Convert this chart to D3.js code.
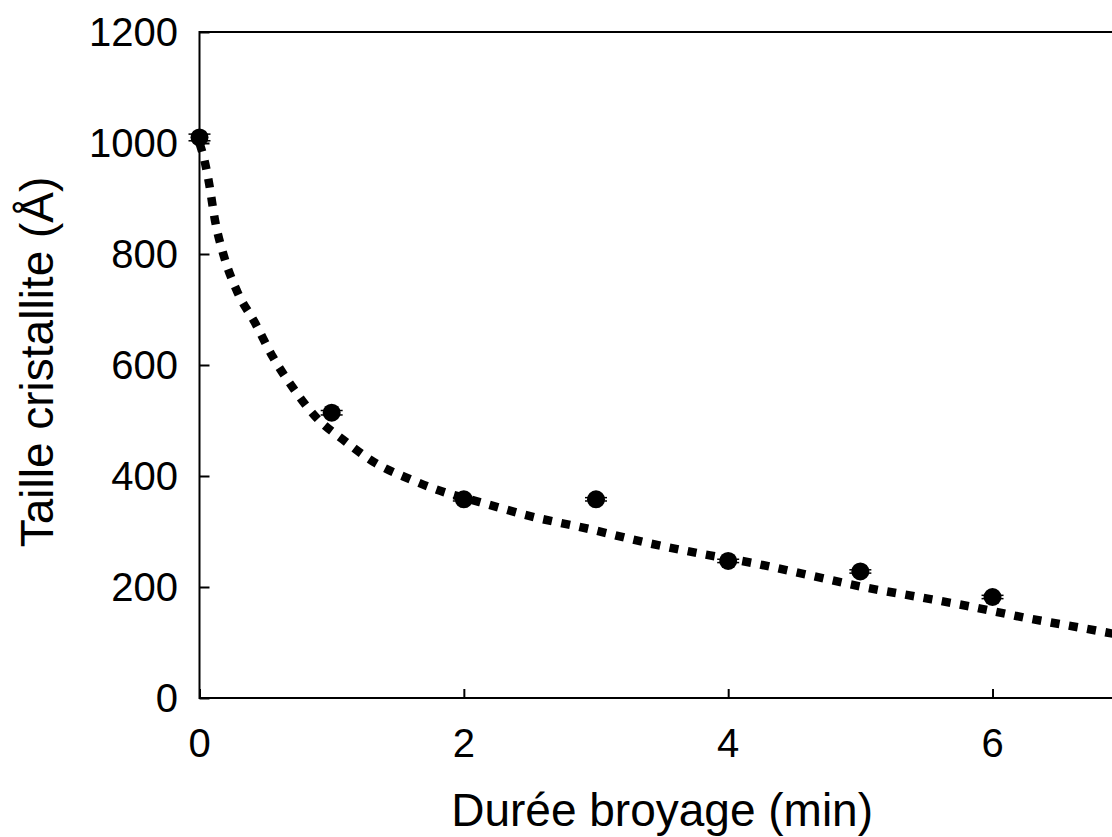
<!DOCTYPE html>
<html><head><meta charset="utf-8">
<script src="https://cdn.jsdelivr.net/npm/d3@7"></script>
<style>html,body{margin:0;padding:0;background:#fff;overflow:hidden}svg{display:block}text{font-family:"Liberation Sans",Arial,sans-serif;fill:#000}</style>
</head><body>
<script>
// Measured data points
const durations = [0, 1, 2, 3, 4, 5, 6];
const sizes = [1010, 514, 358, 358, 247, 228, 182];
const errors = [6, 4, 3, 3, 3, 3, 3];
// Dotted trend line
const fitX = [0, 0.042, 0.072, 0.117, 0.185, 0.284, 0.42, 0.556, 0.707, 0.881, 1.10, 1.32, 1.585, 1.85, 2.12, 2.53, 2.94, 3.36, 3.77, 4.19, 4.60, 5.02, 5.44, 5.85, 6.26, 6.68, 7.0];
const fitY = [1000, 964, 928, 861, 796, 733, 676, 614, 559, 506, 463, 425, 395, 371, 353, 326, 305, 281, 261, 243, 222, 200, 182, 164, 144, 126, 112];
const xTicks = [0, 2, 4, 6];
const yTicks = [0, 200, 400, 600, 800, 1000, 1200];
const xTitle = "Durée broyage (min)";
const yTitle = "Taille cristallite (Å)";

const W = 1112, H = 837;
const svg = d3.select("body").append("svg").attr("width", W).attr("height", H);
const x = d3.scaleLinear().domain([0, 7]).range([199.5, 1124.7]);
const y = d3.scaleLinear().domain([0, 1200]).range([698, 32]);

// frame
svg.append("rect").attr("x", x(0)).attr("y", y(1200))
  .attr("width", x(7) - x(0)).attr("height", y(0) - y(1200))
  .attr("fill", "none").attr("stroke", "#000").attr("stroke-width", 2);

// y axis (ticks inside)
const yAxis = svg.append("g").attr("transform", `translate(${x(0)},0)`)
  .call(d3.axisRight(y).tickValues(yTicks).tickSize(10).tickFormat(""));
yAxis.select(".domain").remove();
yAxis.selectAll("line").attr("stroke", "#000").attr("stroke-width", 2);
svg.append("g").selectAll("text").data(yTicks).join("text")
  .attr("x", 178).attr("y", d => y(d)).attr("dy", "0.36em")
  .attr("text-anchor", "end").style("font-size", "40px").text(d => d);

// x axis (ticks inside)
const xAxis = svg.append("g").attr("transform", `translate(0,${y(0)})`)
  .call(d3.axisTop(x).tickValues(xTicks).tickSize(9).tickFormat(""));
xAxis.select(".domain").remove();
xAxis.selectAll("line").attr("stroke", "#000").attr("stroke-width", 2);
svg.append("g").selectAll("text").data(xTicks).join("text")
  .attr("x", d => x(d)).attr("y", 757)
  .attr("text-anchor", "middle").style("font-size", "40px").text(d => d);

// titles
svg.append("text").attr("x", (x(0) + x(7)) / 2).attr("y", 826)
  .attr("text-anchor", "middle").style("font-size", "46px").text(xTitle);
svg.append("text").attr("transform", `translate(53,362) rotate(-90)`)
  .attr("text-anchor", "middle").style("font-size", "46px").text(yTitle);

// trend line
const line = d3.line().x((d, i) => x(fitX[i])).y(d => y(d)).curve(d3.curveMonotoneX);
svg.append("path").datum(fitY).attr("d", line)
  .attr("fill", "none").attr("stroke", "#000").attr("stroke-width", 8.5)
  .attr("stroke-dasharray", "9,9.5");

// error bars
const eb = svg.append("g").attr("stroke", "#000").attr("stroke-width", 1.5);
durations.forEach((d, i) => {
  const cx = x(d);
  eb.append("line").attr("x1", cx).attr("x2", cx).attr("y1", y(sizes[i] - errors[i])).attr("y2", y(sizes[i] + errors[i]));
  [-1, 1].forEach(s => eb.append("line").attr("x1", cx - 11).attr("x2", cx + 11)
    .attr("y1", y(sizes[i] + s * errors[i])).attr("y2", y(sizes[i] + s * errors[i])));
});

// points
svg.append("g").selectAll("circle").data(durations).join("circle")
  .attr("cx", d => x(d)).attr("cy", (d, i) => y(sizes[i])).attr("r", 9).attr("fill", "#000");
</script>
</body></html>
